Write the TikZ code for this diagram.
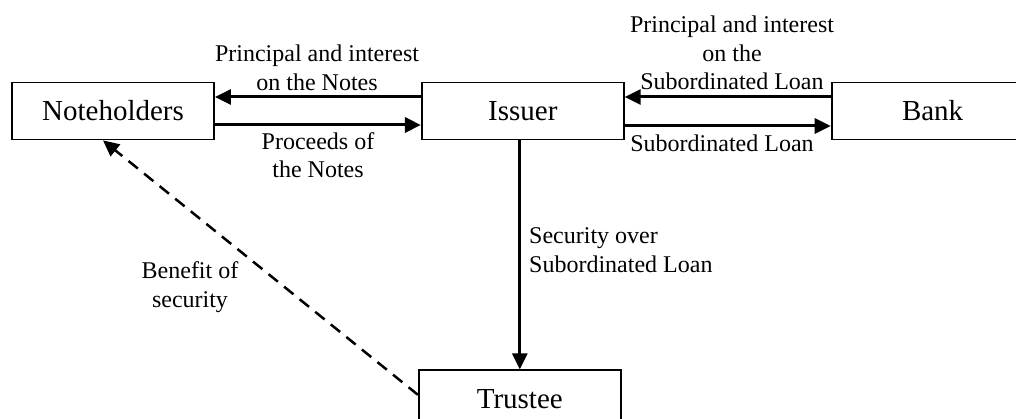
\documentclass[tikz,border=0pt]{standalone}
\usepackage{fontspec}
\setmainfont{Liberation Serif}
\usetikzlibrary{arrows.meta,positioning}
\tikzstyle{box}=[draw,rectangle,line width=1.8pt,inner sep=0pt,minimum
width=202pt,minimum height=57pt,font=\fontsize{29}{34}\selectfont]
\tikzstyle{label}=[inner sep=0pt,align=center,font=\fontsize{24}{28.5}\selectfont]
\tikzstyle{flow}=[-{Triangle[length=16pt,width=15pt]}, line width=3pt]
\tikzstyle{benefit}=[flow, line width=2.5pt, dash pattern=on 12pt off 8pt]

\begin{document}
\begin{tikzpicture}[x=1pt, y=-1pt, node distance=206pt]
  \useasboundingbox (0,0) rectangle (1016,419);

  \node[box] (noteholders) at (113,111) {Noteholders};
  \node[box, right=of noteholders] (issuer) {Issuer};
  \node[box, right=of issuer] (bank) {Bank};
  \node[box, below=229pt of issuer, xshift=-3pt] (trustee) {Trustee};

  \draw[flow] ([yshift=14pt]issuer.west) -- ([yshift=14pt]noteholders.east);
  \draw[flow] ([yshift=-14pt]noteholders.east) -- ([yshift=-14pt]issuer.west);
  \draw[flow] ([yshift=14pt]bank.west) -- ([yshift=14pt]issuer.east);
  \draw[flow] ([yshift=-15pt]issuer.east) -- ([yshift=-15pt]bank.west);
  \draw[flow] (trustee.north |- issuer.south) -- (trustee.north);
  \draw[benefit] ([yshift=4pt]trustee.west) -- ([xshift=-10pt]noteholders.south);

  \node[label] (pinotes) at (317,68) {Principal and interest\\on the Notes};
  \node[label] (proceeds) at (318,155) {Proceeds of\\the Notes};
  \node[label] (piloan) at (732,53) {Principal and interest\\on the\\Subordinated Loan};
  \node[label] (loan) at (722,143) {Subordinated Loan};
  \node[label, anchor=west, align=left] (security) at (529,250) {Security over\\Subordinated Loan};
  \node[label] (benefitlbl) at (190,287) {Benefit of\\security};
\end{tikzpicture}
\end{document}
